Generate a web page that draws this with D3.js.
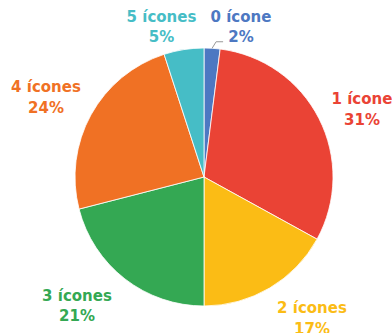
<!DOCTYPE html>
<html>
<head>
<meta charset="utf-8">
<script src="https://cdn.jsdelivr.net/npm/d3@7"></script>
<style>
html,body{margin:0;padding:0;background:#fff;overflow:hidden;}
text{font-family:"DejaVu Sans",sans-serif;font-weight:bold;}
</style>
</head>
<body>
<svg id="chart" width="392" height="333"></svg>
<script>
const categories = ["0 ícone", "1 ícone", "2 ícones", "3 ícones", "4 ícones", "5 ícones"];
const values = [2, 31, 17, 21, 24, 5];
const percentLabels = ["2%", "31%", "17%", "21%", "24%", "5%"];
const colors = ["#4d78c2", "#ea4335", "#fbbc15", "#34a853", "#f07124", "#46bdc6"];
// label anchor (centre x, first-line baseline y)
const labelLayout = [[241, 21.5], [362, 104], [312, 313], [77, 300.5], [46, 92], [161.5, 21.5]];

const svg = d3.select("#chart");
const cx = 204, cy = 177, r = 129;
const g = svg.append("g").attr("transform", `translate(${cx},${cy})`);

const data = categories.map((c, i) => ({cat: c, value: values[i], pct: percentLabels[i], color: colors[i], pos: labelLayout[i]}));
const pie = d3.pie().value(d => d.value).sort(null);
const arc = d3.arc().innerRadius(0).outerRadius(r);
const arcs = pie(data);

g.selectAll("path.slice").data(arcs).join("path")
  .attr("class", "slice")
  .attr("d", arc)
  .attr("fill", d => d.data.color)
  .attr("stroke", "#fff")
  .attr("stroke-width", 0.8);

// leader line for the small slice
const a0 = arcs[0];
const mid = (a0.startAngle + a0.endAngle) / 2;
const px = Math.sin(mid) * r, py = -Math.cos(mid) * r;
g.append("path")
  .attr("d", `M${px},${py} L${px + 4},${py - 6.5} L${px + 11},${py - 6.5}`)
  .attr("fill", "none")
  .attr("stroke", "#999")
  .attr("stroke-width", 1);

const lbl = svg.selectAll("text.lbl").data(data).join("text")
  .attr("class", "lbl")
  .attr("text-anchor", "middle")
  .attr("font-size", 15)
  .attr("fill", d => d.color);
lbl.append("tspan").attr("x", d => d.pos[0]).attr("y", d => d.pos[1]).text(d => d.cat);
lbl.append("tspan").attr("x", d => d.pos[0]).attr("y", d => d.pos[1] + 20.5).text(d => d.pct);
</script>
</body>
</html>
